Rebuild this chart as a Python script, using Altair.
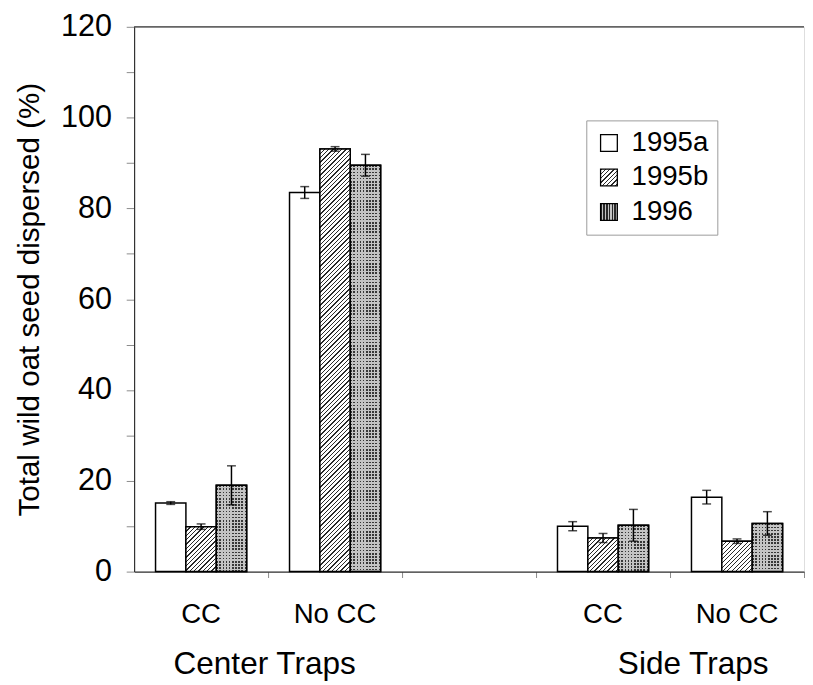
import altair as alt
import pandas as pd

# ---------------- data ----------------
categories = ["C-CC", "C-NoCC", "gap", "S-CC", "S-NoCC"]
cat_labels = ["CC", "No CC", "", "CC", "No CC"]
bar_cats = ["C-CC", "C-NoCC", "S-CC", "S-NoCC"]
groups = ["Center Traps", "Side Traps"]
years = ["1995a", "1995b", "1996"]

v1995a = [15.1, 83.5, 10.0, 16.4]
v1995b = [9.9, 93.1, 7.4, 6.7]
v1996 = [19.0, 89.5, 10.2, 10.6]
e1995a = [0.3, 1.3, 1.0, 1.5]
e1995b = [0.6, 0.5, 1.0, 0.5]
e1996 = [4.3, 2.4, 3.5, 2.6]

# ---------------- layout ----------------
W, H = 680, 553
YMAX = 120
P_INNER, P_OUTER = 0.32, 0.16
step = W / (len(categories) - P_INNER + 2 * P_OUTER)
bandw = step * (1 - P_INNER)
bar_w = bandw / len(years)
FONT = "Liberation Sans"

rows = []
for yr, vals, errs in [("1995a", v1995a, e1995a), ("1995b", v1995b, e1995b), ("1996", v1996, e1996)]:
    for c, v, e in zip(bar_cats, vals, errs):
        rows.append({"cat": c, "year": yr, "value": v, "lo": v - e, "hi": v + e})
df = pd.DataFrame(rows)


def stripes(total, period, on, c_on, c_off):
    stops = []
    s = 0.0
    while s < total - 1e-9:
        a = s / total
        b = min(s + on, total) / total
        e = min(s + period, total) / total
        stops += [
            {"offset": round(a, 5), "color": c_on},
            {"offset": round(b, 5), "color": c_on},
            {"offset": round(b, 5), "color": c_off},
            {"offset": round(e, 5), "color": c_off},
        ]
        s += period
    return stops


HATCH = "#2a2a2a"


def diag_grad(w, h, gid=None, period=4.4, on=1.3):
    tot = w + h
    k = tot / (w * w + h * h)
    g = {"gradient": "linear", "x1": 0, "y1": 0, "x2": w * k, "y2": h * k,
         "stops": stripes(tot, period, on, HATCH, "#ffffff")}
    if gid:
        g["id"] = gid
    return g


DOT = "#383838"
LIGHT = "#c4c4c4"


def vstripe_grad(w, gid=None, period=3.2, on=1.6, dot=DOT):
    g = {"gradient": "linear", "x1": 0, "y1": 0, "x2": 1, "y2": 0,
         "stops": stripes(w, period, on, dot, LIGHT)}
    if gid:
        g["id"] = gid
    return g


def hrow_grad(h, period=3.2, on=1.6):
    return {"gradient": "linear", "x1": 0, "y1": 0, "x2": 0, "y2": 1,
            "stops": stripes(h, period, on, "rgba(196,196,196,0)", LIGHT)}


# ---------------- scales / axes ----------------
label_expr = "''"
for c, l in zip(categories, cat_labels):
    label_expr = f"datum.value == '{c}' ? '{l}' : ({label_expr})"

band_pos = (bandw + P_OUTER * step) / bandw
ysc = alt.Scale(domain=[0, YMAX], nice=False)
x_enc = alt.X(
    "cat:N",
    scale=alt.Scale(domain=categories, paddingInner=P_INNER, paddingOuter=P_OUTER),
    axis=alt.Axis(title=None, labelExpr=label_expr, bandPosition=band_pos,
                  labelOffset=0, labelAngle=0,
                  tickSize=6, tickColor="#8a8a8a", domainColor="#333333", domainWidth=1.2,
                  labelFontSize=28, labelFont=FONT, labelColor="black", labelPadding=24),
)
xo_enc = alt.XOffset("year:N", scale=alt.Scale(domain=years, paddingInner=0, paddingOuter=0))
y_enc = alt.Y(
    "value:Q",
    scale=ysc,
    axis=alt.Axis(title="Total wild oat seed dispersed (%)", values=list(range(0, YMAX + 1, 10)),
                  labelExpr="datum.value % 20 == 0 ? datum.label : ''", grid=False,
                  tickSize=8, tickColor="#8a8a8a", domainColor="#333333", domainWidth=1.2,
                  labelFontSize=31, labelFont=FONT, labelColor="black", labelPadding=15,
                  titleFontSize=30, titleFont=FONT, titleFontWeight="normal",
                  titleColor="black", titlePadding=16),
)

base = alt.Chart(df)

bars = base.mark_bar(stroke="black", strokeWidth=1.5).encode(
    x=x_enc, xOffset=xo_enc, y=y_enc,
    fill=alt.Fill("year:N", scale=alt.Scale(domain=years, range=["white", "url(#hatchL)", "url(#dotL)"]),
                  legend=alt.Legend(title=None, orient="none", legendX=459, legendY=95,
                                    direction="vertical", symbolType="square", symbolSize=289,
                                    symbolStrokeColor="black", symbolStrokeWidth=1.3,
                                    labelFontSize=28, labelFont=FONT, labelColor="black",
                                    labelOffset=9, padding=9, rowPadding=7, labelLimit=0,
                                    strokeColor="#9a9a9a", fillColor="white")),
)

layers = [bars]
px = H / YMAX
for c, v in zip(bar_cats, v1995b):
    layers.append(
        base.transform_filter((alt.datum.cat == c) & (alt.datum.year == "1995b"))
        .mark_bar(fill=diag_grad(bar_w, v * px), stroke="black", strokeWidth=1.5)
        .encode(x=x_enc, xOffset=xo_enc, y=y_enc)
    )
layers.append(
    base.transform_filter(alt.datum.year == "1996")
    .mark_bar(fill=vstripe_grad(bar_w), strokeWidth=0)
    .encode(x=x_enc, xOffset=xo_enc, y=y_enc)
)
for c, v in zip(bar_cats, v1996):
    layers.append(
        base.transform_filter((alt.datum.cat == c) & (alt.datum.year == "1996"))
        .mark_bar(fill=hrow_grad(v * px), stroke="black", strokeWidth=1.5)
        .encode(x=x_enc, xOffset=xo_enc, y=y_enc)
    )

err = base.mark_rule(color="black", strokeWidth=1.5).encode(
    x=x_enc, xOffset=xo_enc, y=alt.Y("lo:Q", scale=ysc), y2="hi:Q")
cap_lo = base.mark_tick(color="black", thickness=1.5, size=9).encode(
    x=x_enc, xOffset=xo_enc, y=alt.Y("lo:Q", scale=ysc))
cap_hi = base.mark_tick(color="black", thickness=1.5, size=9).encode(
    x=x_enc, xOffset=xo_enc, y=alt.Y("hi:Q", scale=ysc))
layers += [err, cap_lo, cap_hi]

top = alt.Chart(pd.DataFrame({"t": [YMAX]})).mark_rule(color="#333333", strokeWidth=1.2).encode(
    y=alt.Y("t:Q", scale=ysc), x=alt.value(0), x2=alt.value(W))
layers.append(top)

# hidden helpers registering legend pattern definitions
helper = alt.Chart(pd.DataFrame({"k": [0]}))
layers.append(helper.mark_point(shape="square", size=289, filled=True, opacity=0,
                                fill=diag_grad(17, 17, gid="hatchL"))
              .encode(x=alt.value(0), y=alt.value(0)))
layers.append(helper.mark_point(shape="square", size=289, filled=True, opacity=0,
                                fill=vstripe_grad(17, gid="dotL", period=2.8, on=1.5, dot="#2a2a2a"))
              .encode(x=alt.value(0), y=alt.value(0)))

main = alt.layer(*layers)

grp = alt.Chart(pd.DataFrame({"group": groups})).mark_point(opacity=0).encode(
    x=alt.X("group:N", scale=alt.Scale(type="point", domain=groups, range=[132, 567], padding=0),
            axis=alt.Axis(orient="bottom", title=None, domain=False, ticks=False, tickSize=0,
                          labelFontSize=32, labelFont=FONT, labelColor="black", labelLimit=0,
                          labelPadding=78, labelAngle=0)))

chart = (
    alt.layer(main, grp)
    .resolve_scale(x="independent")
    .properties(width=W, height=H, padding={"left": 7, "top": -2, "right": 0, "bottom": 0})
    .configure_view(stroke=None)
    .configure(font=FONT, background="white")
)

chart.save("out.html", embed_options={"renderer": "svg", "actions": False})
